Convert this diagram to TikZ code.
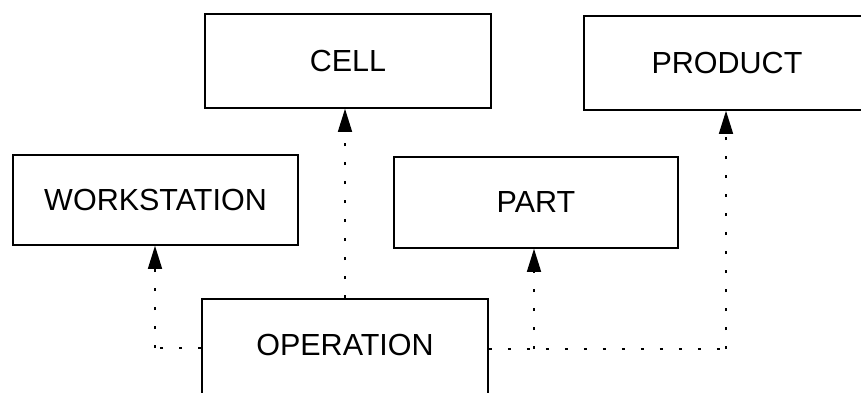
\documentclass[tikz,border=0pt]{standalone}
\usepackage{fontspec}
\setmainfont{Liberation Sans}
\usetikzlibrary{arrows.meta}
\begin{document}
\begin{tikzpicture}[x=1pt,y=-1pt,
  entity/.style={draw, line width=1.6pt, inner sep=0pt, font=\fontsize{30.5}{36}\selectfont},
  link/.style={line width=1.5pt, dash pattern=on 3pt off 16pt},
  linkarrow/.style={link, -{Triangle[width=14pt,length=23pt]}}]
\useasboundingbox (0,0) rectangle (861,393);
\clip (0,0) rectangle (861,393);
\node[entity, minimum width=286pt, minimum height=94pt] (cell) at (348,61) {CELL};
\node[entity, minimum width=286pt, minimum height=94pt] (product) at (727,63) {PRODUCT};
\node[entity, minimum width=285pt, minimum height=90pt] (ws) at (155.5,200) {WORKSTATION};
\node[entity, minimum width=284pt, minimum height=91pt] (part) at (536,202.5) {PART};
\node[entity, minimum width=286pt, minimum height=100pt] (op) at (345,349) {};
\node[font=\fontsize{30.5}{36}\selectfont, inner sep=0pt] (optext) at (345,345) {OPERATION};
\coordinate (wl) at (155,348);
\coordinate (pj) at (534,349);
\coordinate (pr) at (726,349);
\draw[link] (op.west |- wl) -- (wl);
\draw[linkarrow] (wl) -- (ws.south -| wl);
\draw[linkarrow] (op.north) -- (cell.south -| op.north);
\draw[link] (op.east |- pj) -- (pr);
\draw[linkarrow] (pj) -- (part.south -| pj);
\draw[linkarrow] (pr) -- (product.south -| pr);
\end{tikzpicture}
\end{document}
